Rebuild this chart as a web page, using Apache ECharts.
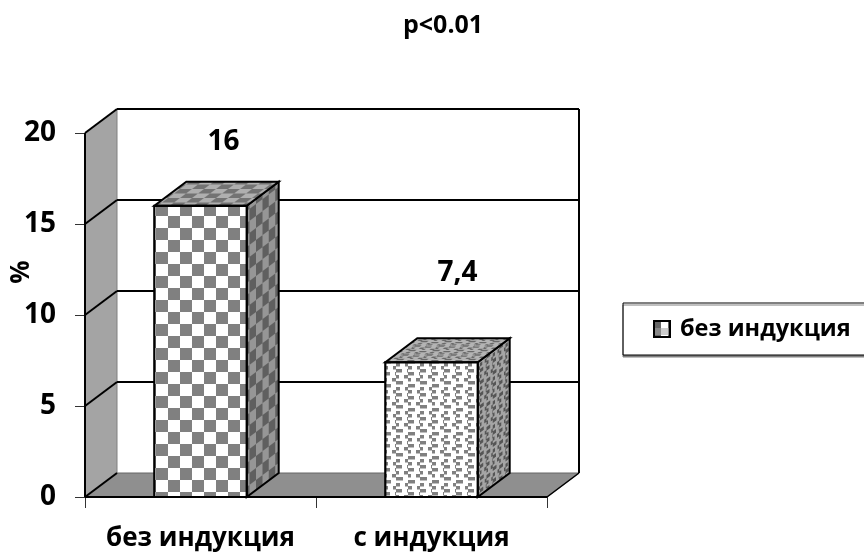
<!DOCTYPE html>
<html>
<head>
<meta charset="utf-8">
<style>html,body{margin:0;padding:0;background:#fff}#c{width:864px;height:554px}</style>
<script src="https://cdn.jsdelivr.net/npm/echarts@6/dist/echarts.min.js"></script>
</head>
<body>
<div id="c"></div>
<script>
const categories = ['без индукция', 'с индукция'];
const seriesName = 'без индукция';
const values = [16, 7.4];
const valueLabels = ['16', '7,4'];
const yTicks = [0, 5, 10, 15, 20];
const titleText = 'p<0.01';
const yAxisName = '%';

const FONT = '"Open Sans", "Noto Sans", sans-serif';
const DX = 32, DY = -24;

// base patterns on a 24x24 lattice
function checker(u, v) {
  return (Math.floor(u / 12) + Math.floor(v / 12)) % 2 === 0;
}
function dashes(u, v) {
  const col = Math.floor(u / 12) % 2;
  const v2 = (v + col * 3) % 24;
  const row = Math.floor(v2 / 6);
  if (v2 - row * 6 > 3.6) return false;
  const shift = [0, 3, 1, 4][row % 4];
  return (u + shift) % 12 < 7;
}
function tile(W, H, map, f, on, off) {
  const c = document.createElement('canvas');
  c.width = W; c.height = H;
  const ctx = c.getContext('2d');
  const img = ctx.createImageData(W, H);
  const S = 4;
  for (let y = 0; y < H; y++) for (let x = 0; x < W; x++) {
    let n = 0;
    for (let a = 0; a < S; a++) for (let b = 0; b < S; b++) {
      const m = map(x + (a + .5) / S, y + (b + .5) / S);
      if (f(((m[0] % 24) + 24) % 24, ((m[1] % 24) + 24) % 24)) n++;
    }
    const t = n / (S * S), i = (y * W + x) * 4;
    for (let k = 0; k < 3; k++) img.data[i + k] = on[k] * t + off[k] * (1 - t);
    img.data[i + 3] = 255;
  }
  ctx.putImageData(img, 0, 0);
  return { image: c, repeat: 'repeat' };
}
const gray = v => [v, v, v];
const frontMap = (x, y) => [x, y];
const sideMap = (x, y) => [x * 1.875, y + 0.75 * x];
const topMap = (x, y) => [x + (4 / 3) * y, y * (8 / 3)];
const barFills = [
  { front: tile(24, 24, frontMap, checker, gray(128), gray(255)),
    side: tile(64, 24, sideMap, checker, gray(95), gray(150)),
    top: tile(24, 18, topMap, checker, gray(115), gray(175)) },
  { front: tile(24, 24, frontMap, dashes, gray(128), gray(255)),
    side: tile(64, 24, sideMap, dashes, gray(85), gray(165)),
    top: tile(24, 18, topMap, dashes, gray(105), gray(180)) }
];
const legendFill = (function () {
  const c = document.createElement('canvas');
  c.width = 14; c.height = 14;
  const x = c.getContext('2d');
  x.fillStyle = '#666'; x.fillRect(0, 0, 7, 7);
  x.fillStyle = '#fff'; x.fillRect(7, 0, 7, 7);
  x.fillStyle = '#888'; x.fillRect(0, 7, 7, 7);
  x.fillStyle = '#ccc'; x.fillRect(7, 7, 7, 7);
  return { image: c, repeat: 'repeat' };
})();

function poly(points, fill, stroke, lw) {
  return { type: 'polygon', shape: { points }, style: { fill, stroke: stroke || 'none', lineWidth: lw || 0 } };
}
function line(x1, y1, x2, y2, stroke, lw) {
  return { type: 'line', shape: { x1, y1, x2, y2 }, style: { stroke, lineWidth: lw } };
}

function renderFrame(params, api) {
  const cs = params.coordSys;
  const L = cs.x, R = cs.x + cs.width;
  const v = api.value(1);
  const y = api.coord([0, v])[1];
  const els = [];
  if (params.dataIndex === 0) {
    const T = api.coord([0, yTicks[yTicks.length - 1]])[1];
    els.push(poly([[L, T], [L + DX, T + DY], [L + DX, y + DY], [L, y]], '#a4a4a4', '#808080', 1));
    els.push(poly([[L, y], [L + DX, y + DY], [R + DX, y + DY], [R, y]], '#8f8f8f', '#666', 1));
    els.push(line(L, y, L + DX, y + DY, '#000', 2));
    els.push(line(R + DX, y + DY, R, y, '#000', 1.5));
    els.push(line(R + DX, y + DY, R + DX, T + DY, '#000', 2));
    els.push(line(L, T, L, y, '#000', 2));
    els.push(line(L, y, R, y, '#000', 2));
  } else {
    els.push(line(L, y, L + DX, y + DY, '#000', 2));
    els.push(line(L + DX, y + DY, R + DX, y + DY, '#000', 2));
  }
  return { type: 'group', children: els };
}

function renderBar(params, api) {
  const i = params.dataIndex;
  const c = api.coord([api.value(0), api.value(1)]);
  const base = api.coord([api.value(0), 0]);
  const w = api.size([1, 0])[0] * 0.4;
  const x0 = c[0] - w / 2, x1 = c[0] + w / 2, t = c[1], b = base[1];
  const f = barFills[i];
  return {
    type: 'group',
    children: [
      poly([[x1, t], [x1 + DX, t + DY], [x1 + DX, b + DY], [x1, b]], f.side, '#000', 2),
      poly([[x0, t], [x0 + DX, t + DY], [x1 + DX, t + DY], [x1, t]], f.top, '#000', 2),
      poly([[x0, t], [x1, t], [x1, b], [x0, b]], f.front, '#000', 2.2)
    ]
  };
}

// hand-moved data labels of the reference, relative to the bar's top centre
const labelShift = [[23, -64], [26, -89]];
function renderLabel(params, api) {
  const c = api.coord([api.value(0), api.value(1)]);
  const s = labelShift[params.dataIndex];
  return {
    type: 'text',
    x: c[0] + s[0], y: c[1] + s[1],
    style: {
      text: valueLabels[params.dataIndex], fill: '#000',
      font: 'bold 28px ' + FONT, textAlign: 'center', textVerticalAlign: 'middle'
    }
  };
}

const chart = echarts.init(document.getElementById('c'), null, { renderer: 'canvas' });
chart.setOption({
  animation: false,
  backgroundColor: '#fff',
  title: {
    text: titleText, left: 398, top: 8,
    textStyle: { fontFamily: FONT, fontWeight: 'bold', fontSize: 25, color: '#000' }
  },
  legend: {
    data: [seriesName], left: 623, top: 303,
    padding: [14, 20, 14, 30], itemWidth: 16, itemHeight: 16, itemGap: 0,
    borderColor: '#000', borderWidth: 1, backgroundColor: '#fff',
    shadowColor: '#808080', shadowOffsetY: 2, shadowBlur: 0,
    icon: 'rect',
    itemStyle: { color: legendFill, borderColor: '#000', borderWidth: 2 },
    textStyle: { fontFamily: FONT, fontWeight: 'bold', fontSize: 23.5, color: '#000', padding: [2, 0, 0, 5] }
  },
  grid: { left: 85, right: 317, top: 133, bottom: 57 },
  xAxis: {
    type: 'category', data: categories,
    axisLine: { show: true, lineStyle: { color: '#000', width: 1 } },
    axisTick: { show: true, alignWithLabel: false, interval: 0, length: 11, lineStyle: { color: '#333', width: 1 } },
    axisLabel: { interval: 0, margin: 29, fontFamily: FONT, fontWeight: 'bold', fontSize: 26, color: '#000' }
  },
  yAxis: {
    type: 'value', min: 0, max: 20, interval: 5,
    axisLine: { show: true, lineStyle: { color: '#000', width: 1 } },
    axisTick: { show: true, length: 10, lineStyle: { color: '#333', width: 1 } },
    splitLine: { show: false },
    axisLabel: { margin: 29, padding: [7, 0, 0, 0], fontFamily: FONT, fontWeight: 'bold', fontSize: 28, color: '#000' }
  },
  graphic: [{
    type: 'text', x: 22, y: 272, rotation: Math.PI / 2,
    style: { text: yAxisName, fill: '#000', font: 'bold 26px ' + FONT, textAlign: 'center', textVerticalAlign: 'middle' }
  }],
  series: [
    { type: 'custom', name: 'frame', renderItem: renderFrame, encode: { x: 0, y: 1 },
      data: yTicks.map(t => [0, t]), silent: true, z: 1 },
    { type: 'custom', name: seriesName, renderItem: renderBar, encode: { x: 0, y: 1 },
      data: values.map((v, i) => [i, v]), z: 3 },
    { type: 'custom', name: 'labels', renderItem: renderLabel, encode: { x: 0, y: 1 },
      data: values.map((v, i) => [i, v]), silent: true, z: 4 }
  ]
});
</script>
</body>
</html>
